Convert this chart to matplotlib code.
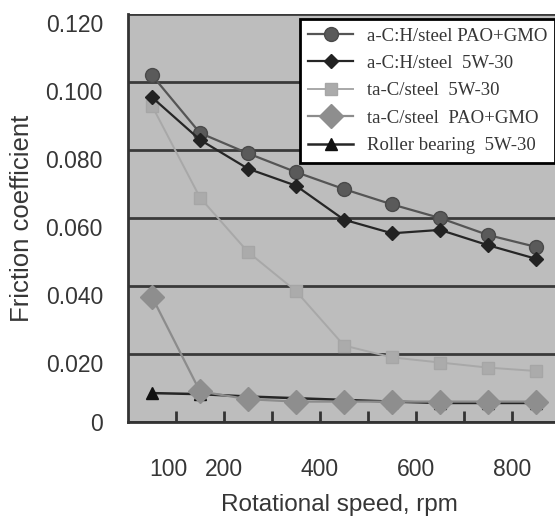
import matplotlib
matplotlib.use("Agg")
import matplotlib.pyplot as plt
import matplotlib.transforms as mtransforms

# ---- data ----
rpm = [50, 150, 250, 350, 450, 550, 650, 750, 850]
ach_pao = [0.102, 0.085, 0.079, 0.0735, 0.0685, 0.064, 0.060, 0.055, 0.0515]
ach_5w30 = [0.0955, 0.083, 0.0745, 0.0695, 0.0595, 0.0555, 0.0565, 0.052, 0.048]
tac_5w30 = [0.093, 0.066, 0.050, 0.0385, 0.0225, 0.019, 0.0175, 0.016, 0.015]
tac_pao = [0.0368, 0.009, 0.0067, 0.006, 0.006, 0.006, 0.006, 0.006, 0.006]
roller_5w30 = [0.0085, 0.0082, 0.0075, 0.007, 0.0065, 0.006, 0.0056, 0.0056, 0.0056]
labels = ["a-C:H/steel PAO+GMO", "a-C:H/steel  5W-30", "ta-C/steel  5W-30",
          "ta-C/steel  PAO+GMO", "Roller bearing  5W-30"]
xticks = [100, 200, 300, 400, 500, 600, 700, 800]
xticklabels = ["100", "200", "", "400", "", "600", "", "800"]
yticks = [0, 0.02, 0.04, 0.06, 0.08, 0.10, 0.12]
yticklabels = ["0", "0.020", "0.040", "0.060", "0.080", "0.100", "0.120"]

W, H = 555, 517
TXT = "#363636"
fig = plt.figure(figsize=(W / 100, H / 100), dpi=100)
fig.patch.set_facecolor("white")
ax = fig.add_axes([128 / W, 1 - 422 / H, 432 / W, 408 / H])
ax.set_facecolor("#bdbdbd")
ax.set_xlim(0, 900)
ax.set_ylim(0, 0.12)

# grid
ax.set_yticks(yticks)
ax.yaxis.grid(True, color="#3a3a3a", linewidth=2)
ax.set_axisbelow(True)

h1, = ax.plot(rpm, ach_pao, color="#555555", lw=1.6, marker="o", ms=10,
              mfc="#5a5a5a", mec="#4a4a4a", zorder=4)
h2, = ax.plot(rpm, ach_5w30, color="#262626", lw=1.6, marker="D", ms=7,
              mfc="#222222", mec="#222222", zorder=5)
h3, = ax.plot(rpm, tac_5w30, color="#a8a8a8", lw=1.4, marker="s", ms=8.5,
              mfc="#ababab", mec="#a6a6a6", zorder=3)
h5, = ax.plot(rpm, roller_5w30, color="#262626", lw=1.8, marker="^", ms=8,
              mfc="#111111", mec="#111111", zorder=3)
h4, = ax.plot(rpm, tac_pao, color="#8c8c8c", lw=1.6, marker="D", ms=12,
              mfc="#8e8e8e", mec="#8e8e8e", zorder=4)

for s in ["top", "right"]:
    ax.spines[s].set_visible(False)
for s in ["left", "bottom"]:
    ax.spines[s].set_color("#333333")
    ax.spines[s].set_linewidth(2)

ax.set_xticks(xticks)
ax.set_xticklabels(xticklabels)
ax.tick_params(axis="x", direction="in", length=8, width=2, color="#333333",
               pad=26, labelsize=16.5, labelcolor=TXT)
ax.tick_params(axis="y", length=0, pad=18, labelsize=16.5, labelcolor=TXT)
ax.set_yticklabels(yticklabels)
for lab in ax.xaxis.get_ticklabels():
    lab.set_fontfamily("Liberation Sans")
for lab in ax.yaxis.get_ticklabels():
    lab.set_fontfamily("Liberation Sans")
    if lab.get_text() != "0":
        lab.set_transform(lab.get_transform() +
                          mtransforms.ScaledTranslation(0, -9.5 / 100, fig.dpi_scale_trans))
ax.xaxis.get_ticklabels()[0].set_transform(
    ax.xaxis.get_ticklabels()[0].get_transform() +
    mtransforms.ScaledTranslation(-8 / 100, 0, fig.dpi_scale_trans))

ax.set_xlabel("Rotational speed, rpm", fontsize=17.5, color=TXT,
              fontfamily="Liberation Sans")
ax.xaxis.set_label_coords((339.5 - 128) / 432, (422 - 505) / 408)
ax.xaxis.label.set_verticalalignment("center")
ax.set_ylabel("Friction coefficient", fontsize=18.5, color=TXT,
              fontfamily="Liberation Sans")
ax.yaxis.set_label_coords((22.5 - 128) / 432, (422 - 218) / 408)
ax.yaxis.label.set_verticalalignment("center")

leg = fig.legend([h1, h2, h3, h4, h5], labels, loc="upper left",
                 bbox_to_anchor=(300 / W, 1 - 19 / H),
                 prop={"family": "Liberation Serif", "size": 13.5},
                 frameon=True, fancybox=False, edgecolor="black",
                 facecolor="white", framealpha=1, handlelength=2.4,
                 handletextpad=0.7, labelspacing=0.55, borderpad=0.45,
                 borderaxespad=0)
leg.get_frame().set_linewidth(2)
for t in leg.get_texts():
    t.set_color(TXT)

fig.savefig("out.png", dpi=100)
